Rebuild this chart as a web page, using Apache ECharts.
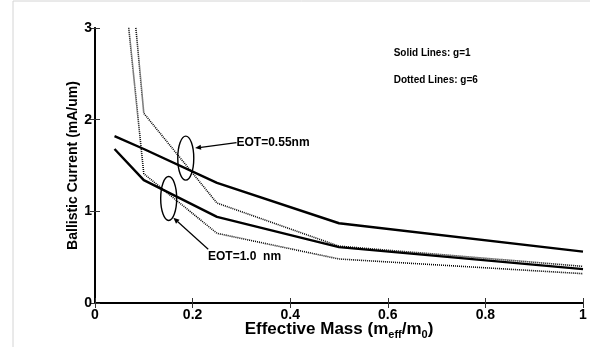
<!DOCTYPE html>
<html>
<head>
<meta charset="utf-8">
<script src="https://cdn.jsdelivr.net/npm/echarts@6/dist/echarts.min.js"></script>
<style>
  html, body { margin: 0; padding: 0; background: #fff; }
  #chart { width: 590px; height: 347px; }
</style>
</head>
<body>
<div id="chart"></div>
<script>
// effective mass (m_eff/m_0) sample points
const mass = [0.04, 0.1, 0.25, 0.5, 1.0];
// ballistic current, mA/um
const solidEot055 = [1.82, 1.68, 1.31, 0.87, 0.56];
const solidEot10 = [1.68, 1.34, 0.94, 0.61, 0.37];
const dottedEot055 = [5.5, 2.07, 1.09, 0.62, 0.40];
const dottedEot10 = [4.5, 1.41, 0.76, 0.48, 0.32];

const xTicks = ["0", "0.2", "0.4", "0.6", "0.8", "1"];
const yTicks = ["0", "1", "2", "3"];

const FONT = "Liberation Sans, Arial, sans-serif";

const chart = echarts.init(document.getElementById("chart"));

const pairs = (ys) => mass.map((m, i) => [m, ys[i]]);

const solid = { color: "#000", width: 2.4 };
const dotted = { color: "#000", width: 1.6, type: [1, 1] };

const baseAxis = {
  axisLine: { lineStyle: { color: "#000", width: 1.8 } },
  axisTick: { inside: true, length: 5, lineStyle: { color: "#333", width: 1 } },
  splitLine: { show: false },
};

const option = {
  animation: false,
  backgroundColor: "#fff",
  grid: { left: 95, right: 7, top: 28, bottom: 44, outerBoundsMode: "none" },
  xAxis: [
    {
      ...baseAxis,
      type: "value", min: 0, max: 1, interval: 0.2,
      axisLabel: {
        margin: 5, color: "#000", fontFamily: FONT, fontWeight: "bold", fontSize: 14,
        formatter: (v) => xTicks[Math.round(v / 0.2)],
      },
      name: "Effective Mass (m{sub|eff}/m{sub|0})",
      nameLocation: "middle",
      nameMoveOverlap: false,
      nameGap: 16,
      nameTextStyle: {
        color: "#000", fontFamily: FONT, fontWeight: "bold", fontSize: 17,
        rich: { sub: { fontFamily: FONT, fontWeight: "bold", fontSize: 11, padding: [10, 0, 0, 0] } },
      },
    },
    {
      ...baseAxis,
      type: "value", min: 0, max: 1, interval: 0.2, position: "top",
      axisLabel: { show: false },
    },
  ],
  yAxis: [
    {
      ...baseAxis,
      type: "value", min: 0, max: 3, interval: 1,
      axisLabel: {
        margin: 3, color: "#000", fontFamily: FONT, fontWeight: "bold", fontSize: 14,
        formatter: (v) => yTicks[Math.round(v)],
      },
      name: "Ballistic Current (mA/um)",
      nameLocation: "middle",
      nameMoveOverlap: false,
      nameGap: 15,
      nameTextStyle: { color: "#000", fontFamily: FONT, fontWeight: "bold", fontSize: 14 },
    },
    {
      ...baseAxis,
      type: "value", min: 0, max: 3, interval: 1, position: "right",
      axisLabel: { show: false },
    },
  ],
  series: [
    { name: "EOT=0.55nm g=1", type: "line", data: pairs(solidEot055), lineStyle: solid, showSymbol: false, clip: true },
    { name: "EOT=1.0nm g=1", type: "line", data: pairs(solidEot10), lineStyle: solid, showSymbol: false, clip: true },
    { name: "EOT=0.55nm g=6", type: "line", data: pairs(dottedEot055), lineStyle: dotted, showSymbol: false, clip: true },
    { name: "EOT=1.0nm g=6", type: "line", data: pairs(dottedEot10), lineStyle: dotted, showSymbol: false, clip: true },
  ],
};

chart.setOption(option);

// annotations placed in data coordinates
const px = (x, y) => chart.convertToPixel({ xAxisIndex: 0, yAxisIndex: 0 }, [x, y]);

function arrow(from, to) {
  const [x1, y1] = px(from[0], from[1]);
  const [x2, y2] = px(to[0], to[1]);
  const a = Math.atan2(y2 - y1, x2 - x1);
  const L = 6, W = 2.6;
  const bx = x2 - L * Math.cos(a), by = y2 - L * Math.sin(a);
  return [
    { type: "line", shape: { x1, y1, x2: bx, y2: by }, style: { stroke: "#000", lineWidth: 1.2 } },
    {
      type: "polygon",
      shape: { points: [[x2, y2], [bx + W * Math.sin(a), by - W * Math.cos(a)], [bx - W * Math.sin(a), by + W * Math.cos(a)]] },
      style: { fill: "#000" },
    },
  ];
}

function ellipse(cx, cy) {
  const [x, y] = px(cx, cy);
  return { type: "ellipse", shape: { cx: x, cy: y, rx: 8, ry: 22 }, style: { fill: null, stroke: "#000", lineWidth: 1.4 } };
}

function label(text, x, y, size) {
  const [lx, ly] = px(x, y);
  return {
    type: "text", x: lx, y: ly,
    style: { text, fill: "#000", font: `bold ${size}px ${FONT}`, textVerticalAlign: "middle" },
  };
}

chart.setOption({
  graphic: [
    // light frame of the original figure
    { type: "line", shape: { x1: 13, y1: 1, x2: 13, y2: 347 }, style: { stroke: "#d4d4d4", lineWidth: 1 } },
    { type: "line", shape: { x1: 13, y1: 1, x2: 590, y2: 1 }, style: { stroke: "#d4d4d4", lineWidth: 1 } },
    ellipse(0.186, 1.58),
    ellipse(0.151, 1.14),
    ...arrow([0.29, 1.75], [0.205, 1.69]),
    ...arrow([0.232, 0.586], [0.1605, 0.93]),
    label("EOT=0.55nm", 0.29, 1.75, 12),
    label("EOT=1.0  nm", 0.2316, 0.5, 12),
    label("Solid Lines: g=1", 0.612, 2.72, 10),
    label("Dotted Lines: g=6", 0.612, 2.43, 10),
  ],
});
</script>
</body>
</html>
